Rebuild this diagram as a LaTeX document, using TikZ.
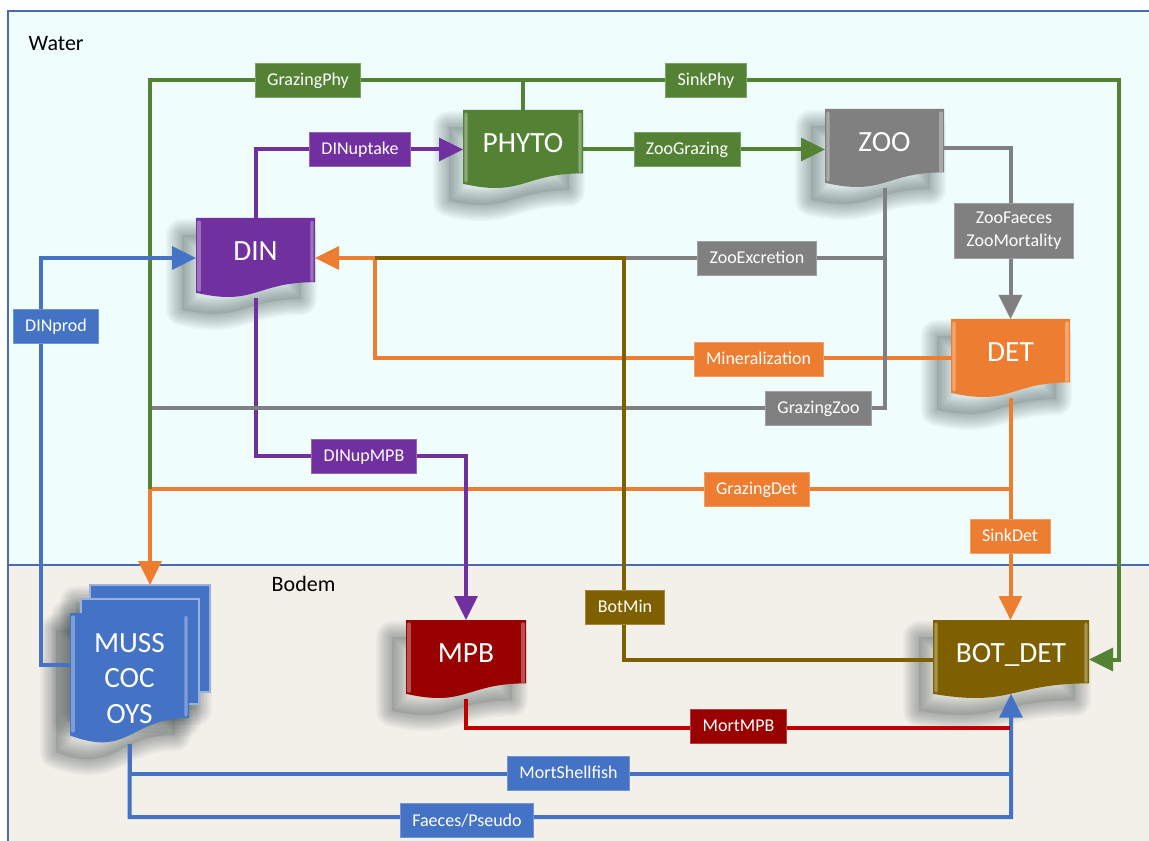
\documentclass[tikz,border=0pt]{standalone}
\usepackage{fontspec}
\setmainfont{Carlito}
\usetikzlibrary{arrows.meta,calc}
\pgfdeclarelayer{bg}\pgfdeclarelayer{shad}\pgfdeclarelayer{lines}\pgfdeclarelayer{shapes}
\pgfsetlayers{bg,shad,lines,shapes,main}
\definecolor{cgreen}{HTML}{548235}
\definecolor{cpurple}{HTML}{7030A0}
\definecolor{cgray}{HTML}{808080}
\definecolor{corange}{HTML}{ED7D31}
\definecolor{cblue}{HTML}{4472C4}
\definecolor{cred}{HTML}{C00000}
\definecolor{cdred}{HTML}{990000}
\definecolor{cbrown}{HTML}{7F6000}
\definecolor{cwater}{HTML}{EFFDFD}
\definecolor{cbodem}{HTML}{F3F0EA}
\definecolor{cframe}{HTML}{4A6BAE}
\definecolor{cshadow}{HTML}{4A5656}
\newcommand\nodefont{\fontsize{22}{26.6}\selectfont}
\newcommand\labfont{\fontsize{13.5}{17}\selectfont}
% document path: name, dx, dy, options
\newcommand\docfill[4]{%
  \path[#4] ($(#1.north west)+(#2,#3)$) -- ($(#1.north east)+(#2,#3)$) --
    ($(#1.north east)!0.802!(#1.south east)+(#2,#3)$) ..
    controls ($(#1.north)!0.802!(#1.south)+(#2,#3)$) and ($(#1.north)!1.1075!(#1.south)+(#2,#3)$) ..
    ($(#1.north west)!0.934!(#1.south west)+(#2,#3)$) -- cycle;}
\newcommand\docshape[2]{%
  \begin{pgfonlayer}{shad}
    \docfill{#1}{-14}{17}{fill=cshadow, opacity=0.15}
    \foreach \w in {2pt,4pt,6pt,8pt,10pt,12pt,14pt,16pt,18pt,20pt,22pt,24pt}{\docfill{#1}{-14}{17}{draw=cshadow, line width=\w, line join=round, opacity=0.04}}
  \end{pgfonlayer}
  \begin{pgfonlayer}{shapes}
    \docfill{#1}{0}{0}{fill=#2}
    \draw[#2!55!white, line width=2.4pt, line cap=round, opacity=0.7] ($(#1.north west)+(3,4)$) -- ($(#1.north west)!0.90!(#1.south west)+(3,0)$);
    \draw[#2!55!white, line width=2.4pt, line cap=round, opacity=0.7] ($(#1.north east)+(-3,4)$) -- ($(#1.north east)!0.78!(#1.south east)+(-3,0)$);
  \end{pgfonlayer}}
\newcommand\pageshape[2]{%
  \begin{pgfonlayer}{shad}
    \path[fill=cshadow, opacity=0.15] ($(#1.north west)+(-14,17)$) rectangle ($(#1.south east)+(-14,17)$);
    \foreach \w in {2pt,4pt,6pt,8pt,10pt,12pt,14pt,16pt,18pt,20pt,22pt,24pt}{\path[draw=cshadow, line width=\w, line join=round, opacity=0.04] ($(#1.north west)+(-14,17)$) rectangle ($(#1.south east)+(-14,17)$);}
  \end{pgfonlayer}
  \begin{pgfonlayer}{shapes}
    \fill[#2] (#1.north west) rectangle (#1.south east);
    \draw[#2!55!white, line width=1.2pt] (#1.south west) -- (#1.north west) -- (#1.north east) -- (#1.south east) -- (#1.south west);
  \end{pgfonlayer}}
\begin{document}
\begin{tikzpicture}[x=0.75pt,y=-0.75pt,
  dn/.style={inner sep=0pt, outer sep=0pt, text=white, font=\nodefont, text height=14pt, text depth=10pt},
  dnm/.style={inner sep=0pt, outer sep=0pt, text=white, font=\nodefont, align=center},
  pg/.style={inner sep=0pt, outer sep=0pt},
  labbase/.style={fill=#1, draw=#1!75!white, line width=0.6pt, text=white, font=\labfont, inner xsep=9pt, inner ysep=0pt},
  lab/.style={labbase=#1, minimum height=25.5pt, text height=8.7pt, text depth=0pt},
  ln/.style={line width=3pt},
  arr/.style={-{Triangle[length=18pt,width=17pt]}}]
\useasboundingbox (0,0) rectangle (1149,841);
\begin{pgfonlayer}{bg}
  \fill[cbodem] (8,565) rectangle (1160,850);
  \fill[cwater] (8,11) rectangle (1160,565);
  \draw[cframe, line width=1pt] (1160,11) -- (8,11) -- (8,850);
  \draw[cframe, line width=1pt] (8,565) -- (1160,565);
\end{pgfonlayer}
\node[anchor=west, font=\fontsize{16.5}{20}\selectfont] (water) at (24,44) {Water};
\node[anchor=west, font=\fontsize{16.5}{20}\selectfont] (bodem) at (267,584) {Bodem};
% compartments
\node[dn, minimum width=90pt, minimum height=59.25pt] (phyto) at (523,149.5) {PHYTO};
\node[dn, minimum width=89.25pt, minimum height=59.25pt] (zoo) at (884.5,148.5) {ZOO};
\node[dn, minimum width=89.25pt, minimum height=60pt] (din) at (255.5,258) {DIN};
\node[dn, minimum width=89.25pt, minimum height=59.25pt] (det) at (1010.5,358.5) {DET};
\node[dn, minimum width=90pt, minimum height=59.25pt] (mpb) at (466,659.5) {MPB};
\node[dn, minimum width=117pt, minimum height=59.25pt] (botdet) at (1011,659.5) {BOT\_DET};
\node[pg, minimum width=90pt, minimum height=80.25pt] (mussb) at (150,638.5) {};
\node[pg, minimum width=88.5pt, minimum height=78.75pt] (mussm) at (140,651.5) {};
\node[dnm, minimum width=89.25pt, minimum height=98.25pt] (muss) at (129.5,678.5) {MUSS\\COC\\OYS};
\docshape{phyto}{cgreen}
\docshape{zoo}{cgray}
\docshape{din}{cpurple}
\docshape{det}{corange}
\docshape{mpb}{cdred}
\docshape{botdet}{cbrown}
\pageshape{mussb}{cblue}
\pageshape{mussm}{cblue}
\docshape{muss}{cblue}
% junctions
\coordinate (jo) at (375,258);
\coordinate (jb) at (624,258);
\coordinate (exc) at (zoo.south |- din.east);
\coordinate (jg) at (150,489);
\coordinate (jz) at (150,408);
\coordinate (jp) at (150,80);
\coordinate (jq) at (1119,80);
\coordinate (jm) at (466,456);
\coordinate (dp) at (41,665);
\coordinate (js) at (1011,774);
\coordinate (jf) at (1011,817);
\coordinate (jr) at (1010,728);
\coordinate (bdtip) at ($(botdet.north)!0.933!(botdet.south)$);
\begin{pgfonlayer}{lines}
  \draw[ln, corange] (det.west) -| (jo);
  \draw[ln, corange, arr] (jo) -- (din.east);
  \draw[ln, corange, arr] (det.south) |- (jg) -- (mussb.north);
  \draw[ln, corange, arr] (det.south) -- (det.south |- botdet.north);
  \draw[ln, cpurple, arr] (din.north) |- (phyto.west);
  \draw[ln, cpurple, arr] (din.south) |- (jm) -- (mpb.north);
  \draw[ln, cgray, arr] (zoo.east) -| (det.north);
  \draw[ln, cgray] (zoo.south) |- (jz);
  \draw[ln, cgray] (exc) -- (jb);
  \draw[ln, cbrown] (botdet.west) -| (jb) -- (jo);
  \draw[ln, cgreen] (phyto.north) |- (jp) -- (jg);
  \draw[ln, cgreen, arr] (phyto.north) |- (jq) |- (botdet.east);
  \draw[ln, cgreen, arr] (phyto.east) -- (phyto.east -| zoo.west);
  \draw[ln, cblue, arr] (muss.north west |- dp) -- (dp) |- (din.west);
  \draw[ln, cblue] (muss.south) |- (js);
  \draw[ln, cblue, arr] (muss.south) |- (jf) -- (bdtip);
  \draw[ln, cred] (mpb.south) |- (jr);
\end{pgfonlayer}
% flow labels
\node[lab=cgreen] (lgphy) at (308,80) {GrazingPhy};
\node[lab=cgreen] (lsphy) at (706,80) {SinkPhy};
\node[lab=cpurple] (ldinup) at (360,149) {DINuptake};
\node[lab=cgreen] (lzgr) at (687,149) {ZooGrazing};
\node[labbase=cgray, minimum height=41.25pt, align=center] (lzfm) at (1014,230.5) {ZooFaeces\\ZooMortality};
\node[lab=cgray] (lzex) at (757,258) {ZooExcretion};
\node[lab=corange] (lmin) at (758.5,359) {Mineralization};
\node[lab=cgray] (lgzoo) at (818.5,408) {GrazingZoo};
\node[lab=cblue] (ldinp) at (56,326) {DINprod};
\node[lab=cpurple] (ldmpb) at (364,456) {DINupMPB};
\node[lab=corange] (lgdet) at (756.5,489) {GrazingDet};
\node[lab=corange] (lsdet) at (1010,536) {SinkDet};
\node[lab=cbrown] (lbmin) at (625,607) {BotMin};
\node[lab=cdred] (lmmpb) at (738.5,726) {MortMPB};
\node[lab=cblue] (lmsh) at (568.5,773) {MortShellfish};
\node[lab=cblue] (lfp) at (467,820.5) {Faeces/Pseudo};
\end{tikzpicture}
\end{document}
